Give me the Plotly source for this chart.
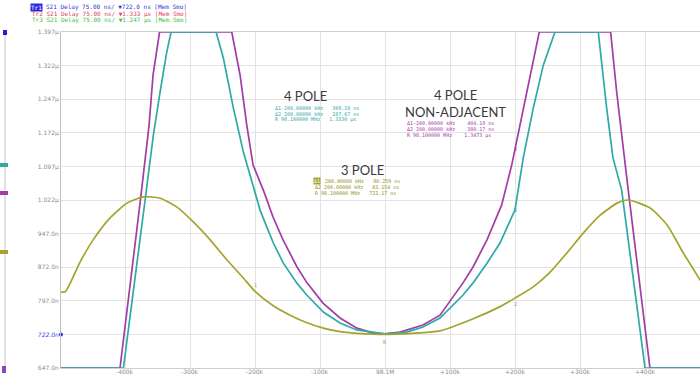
import numpy as np
import plotly.graph_objects as go

# ---------------- data (offset from 98.1 MHz in kHz, group delay in ns) ----------------
f_3pole = [-500, -492, -469, -449, -423, -397, -372, -346, -320, -295, -269, -243, -218, -200,
           -172, -146, -120, -95, -69, -43, 0, 42, 85, 131, 177, 200, 228, 254, 280, 305, 331,
           357, 374, 408, 434, 458, 485]
d_3pole = [817, 817, 884, 933, 982, 1015, 1029, 1026, 1006, 973, 933, 888, 848, 818,
           786, 765, 748, 736, 728, 724.5, 722, 724.5, 730, 754, 784, 803, 828, 861, 904, 948, 988,
           1015, 1022, 1004, 966, 906, 843]

f_4pole = [-500, -402.5, -369.1, -356.4, -346.1, -335.8, -329.1, -259.9, -248.7, -233.3, -217.9,
           -202.5, -192.3, -182, -171.8, -156.4, -135.8, -120.4, -94.9, -69.2, -43.5, 0, 33.4, 58.4,
           84.6, 120, 135.4, 156.9, 176.9, 200, 212.7, 228.1, 243.5, 261.5, 328.1, 341, 350.7, 364.1,
           400, 485]
d_4pole = [647, 647, 1022, 1167, 1263, 1352, 1397, 1397, 1339, 1227, 1129,
           1051, 1000, 962, 926, 881, 837, 810, 772, 747.5, 732, 723, 727, 738.5,
           758.6, 810, 837, 881, 926, 1000, 1116, 1227, 1323, 1397, 1397, 1227, 1116, 1044,
           647, 647]

f_4pole_na = [-500, -407.7, -375.4, -363, -356.9, -346.9, -235.8, -223, -212.7, -203, -192.3,
              -187.2, -172.3, -156.9, -135.4, -120, -95.4, -69.2, -43.1, -18.5, 0, 23.1, 58.4, 84.6,
              120, 135.4, 156.9, 179.5, 194.9, 207.7, 223, 237.3, 347.1, 356.4, 374.2, 407.6, 485]
d_4pole_na = [647, 647, 1033, 1189, 1301, 1397, 1397, 1301, 1189, 1100, 1062,
              1044, 984, 933, 872.5, 837, 792, 758.6, 736, 725, 723, 727, 743, 765,
              837, 872.5, 933, 1011, 1100, 1189, 1301, 1397, 1397, 1263, 1044, 647, 647]

y_ticks = [647, 722, 797, 872, 947, 1022, 1097, 1172, 1247, 1322, 1397]
y_labels = ["647.0n", "722.0n", "797.0n", "872.0n", "947.0n", "1.022µ", "1.097µ",
            "1.172µ", "1.247µ", "1.322µ", "1.397µ"]
ref_delay = 722.0
x_ticks = [-400, -300, -200, -100, 0, 100, 200, 300, 400]
x_labels = ["-400k", "-300k", "-200k", "-100k", "98.1M", "+100k", "+200k", "+300k", "+400k"]

header_lines = [
    ("Tr1", "S21 Delay 75.00 ns/ ▼722.0 ns [Mem Smo]", "#3434d8"),
    ("Tr2", "S21 Delay 75.00 ns/ ▼1.333 µs [Mem Smo]", "#e0405c"),
    ("Tr3", "S21 Delay 75.00 ns/ ▼1.247 µs [Mem Smo]", "#3cbf3c"),
]
readout_4pole = ["Δ1-200.00000 kHz   309.19 ns", "Δ2 200.00000 kHz   287.67 ns", "R 98.100000 MHz   1.3330 µs"]
readout_4pole_na = ["Δ1-200.00000 kHz    404.19 ns", "Δ2 200.00000 kHz    380.17 ns", "R 98.100000 MHz    1.3473 µs"]
readout_3pole_tag = "Δ1"
readout_3pole = ["200.00000 kHz   90.259 ns", "Δ2 200.00000 kHz   83.154 ns", "R 98.100000 MHz   722.17 ns"]

# ---------------- style ----------------
C_OLIVE = "#a3a32e"
C_TEAL = "#2fa8a8"
C_MAG = "#a23ca6"
W, H = 700, 375
ML, MR, MT, MB = 61, 0, 32, 7
PW, PH = W - ML - MR, H - MT - MB


def px(x):
    return (x - ML) / PW


def py(y):
    return (H - MB - y) / PH


fig = go.Figure()
fig.add_trace(go.Scatter(x=f_4pole_na, y=d_4pole_na, mode="lines",
                         line=dict(color=C_MAG, width=1.7), showlegend=False))
fig.add_trace(go.Scatter(x=f_4pole, y=d_4pole, mode="lines",
                         line=dict(color=C_TEAL, width=1.7), showlegend=False))
fig.add_trace(go.Scatter(x=f_3pole, y=d_3pole, mode="lines", line_shape="spline",
                         line=dict(color=C_OLIVE, width=1.7, smoothing=0.6), showlegend=False))
# reference level dot on the left axis
fig.add_trace(go.Scatter(x=[-498.5], y=[ref_delay], mode="markers", cliponaxis=False,
                         marker=dict(color="#3434d8", size=4), showlegend=False))

ytext = [f"<i><span style='color:#4a4ad8'>{l}</span></i>" if v == ref_delay else l
         for v, l in zip(y_ticks, y_labels)]

fig.update_layout(
    width=W, height=H,
    margin=dict(l=ML, r=MR, t=MT, b=MB, autoexpand=False),
    paper_bgcolor="white", plot_bgcolor="white",
    xaxis=dict(range=[-498.5, 484.6], tickvals=x_ticks, showticklabels=False, automargin=False,
               showgrid=True, gridcolor="#e3e3e3", gridwidth=1, zeroline=False,
               showline=True, linecolor="#d0d0d0", mirror=True, ticks=""),
    yaxis=dict(range=[647, 1397], tickvals=y_ticks, ticktext=ytext, automargin=False,
               showgrid=True, gridcolor="#e3e3e3", gridwidth=1, zeroline=False,
               showline=True, linecolor="#c0c0c0", ticks="",
               tickfont=dict(family="DejaVu Sans", size=6, color="#8c8c8c")),
)

ann = []
# x tick labels placed just under the axis
for v, l in zip(x_ticks, x_labels):
    ann.append(dict(x=v, y=py(371.5), xref="x", yref="paper", text=l, showarrow=False,
                    xanchor="center", yanchor="middle",
                    font=dict(family="DejaVu Sans", size=6, color="#8c8c8c")))

# header lines
for i, (tag, rest, col) in enumerate(header_lines):
    yy = py(7.5 + 6.3 * i)
    if i == 0:
        ann.append(dict(x=px(30), y=yy, xref="paper", yref="paper", text=tag, showarrow=False,
                        xanchor="left", yanchor="middle", bgcolor="#2a2ae0", borderpad=0,
                        font=dict(family="DejaVu Sans Mono", size=6, color="white")))
        ann.append(dict(x=px(44), y=yy, xref="paper", yref="paper", text=rest, showarrow=False,
                        xanchor="left", yanchor="middle",
                        font=dict(family="DejaVu Sans Mono", size=6, color=col)))
    else:
        ann.append(dict(x=px(30), y=yy, xref="paper", yref="paper", text=tag + " " + rest,
                        showarrow=False, xanchor="left", yanchor="middle",
                        font=dict(family="DejaVu Sans Mono", size=6, color=col)))

# big labels
ann.append(dict(x=px(305), y=py(96), xref="paper", yref="paper", text="4 POLE", showarrow=False,
                xanchor="center", yanchor="middle", font=dict(family="Lato", size=13, color="#3a3a3a")))
ann.append(dict(x=px(455), y=py(95), xref="paper", yref="paper", text="4 POLE", showarrow=False,
                xanchor="center", yanchor="middle", font=dict(family="Lato", size=13, color="#3a3a3a")))
ann.append(dict(x=px(455), y=py(112), xref="paper", yref="paper", text="NON-ADJACENT", showarrow=False,
                xanchor="center", yanchor="middle", font=dict(family="Lato", size=13, color="#3a3a3a")))
ann.append(dict(x=px(362), y=py(170), xref="paper", yref="paper", text="3 POLE", showarrow=False,
                xanchor="center", yanchor="middle", font=dict(family="Lato", size=13, color="#3a3a3a")))


def readout(x0, y0, lines, col):
    for k, t in enumerate(lines):
        ann.append(dict(x=px(x0), y=py(y0 + 6 * k), xref="paper", yref="paper", text=t,
                        showarrow=False, xanchor="left", yanchor="middle",
                        font=dict(family="DejaVu Sans Mono", size=5, color=col)))


readout(273, 108, readout_4pole, C_TEAL)
readout(405, 123, readout_4pole_na, C_MAG)
ann.append(dict(x=px(313), y=py(181), xref="paper", yref="paper", text=readout_3pole_tag, showarrow=False,
                xanchor="left", yanchor="middle", bgcolor=C_OLIVE, borderpad=0,
                font=dict(family="DejaVu Sans Mono", size=5, color="white")))
readout(323, 181, readout_3pole[:1], "#8f8f20")
readout(313, 187, readout_3pole[1:], "#8f8f20")

# small marker numbers on traces
for f, fx, fy, col, lab, dy in [(f_3pole, -200, d_3pole, C_OLIVE, "1", -6),
                                (f_3pole, 200, d_3pole, C_OLIVE, "2", 6),
                                (f_4pole, 200, d_4pole, C_TEAL, "2", 0),
                                (f_4pole_na, 200, d_4pole_na, C_MAG, "2", 0),
                                (f_3pole, 0, d_3pole, C_OLIVE, "R", 8)]:
    ann.append(dict(x=fx, y=float(np.interp(fx, f, fy)), xref="x", yref="y", text=lab,
                    showarrow=False, yshift=-dy, font=dict(family="DejaVu Sans", size=5, color=col)))

fig.update_layout(annotations=ann)

# left strip with reference markers
shapes = [dict(type="line", xref="paper", yref="paper", x0=px(5), x1=px(5), y0=py(32), y1=py(371),
               line=dict(color="#c4c4c4", width=1))]
for (x0, x1, y0, y1, col) in [(3, 7, 30, 35, "#2020d0"), (0, 8, 163, 167, C_TEAL),
                              (0, 8, 191, 195, C_MAG), (0, 8, 250, 254, C_OLIVE),
                              (2, 6, 366, 373, "#9040c0")]:
    shapes.append(dict(type="rect", xref="paper", yref="paper", x0=px(x0), x1=px(x1),
                       y0=py(y1), y1=py(y0), fillcolor=col, line=dict(width=0)))
fig.update_layout(shapes=shapes)

fig.write_html("out.html", config={"displayModeBar": False},
               post_script="document.body.style.margin='0px';document.body.style.padding='0px';")
